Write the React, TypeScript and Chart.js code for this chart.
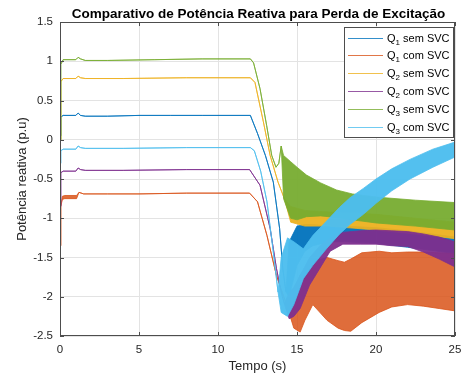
import React, { useEffect, useRef } from "react";
import { Chart, registerables } from "chart.js";

Chart.register(...registerables);

const TITLE = "Comparativo de Potência Reativa para Perda de Excitação";
const X_LABEL = "Tempo (s)";
const Y_LABEL = "Potência reativa (p.u)";
const X_TICKS = [0, 5, 10, 15, 20, 25];
const X_TICK_LABELS = ["0", "5", "10", "15", "20", "25"];
const Y_TICKS = [-2.5, -2, -1.5, -1, -0.5, 0, 0.5, 1, 1.5];
const Y_TICK_LABELS = ["-2.5", "-2", "-1.5", "-1", "-0.5", "0", "0.5", "1", "1.5"];

// Legend names: [base, subscript, rest]
const NAMES = [
  ["Q", "1", " sem SVC"],
  ["Q", "1", " com SVC"],
  ["Q", "2", " sem SVC"],
  ["Q", "2", " com SVC"],
  ["Q", "3", " sem SVC"],
  ["Q", "3", " com SVC"],
];
const COLORS = ["#0072BD", "#D95319", "#EDB120", "#7E2F8E", "#77AC30", "#4DBEEE"];
const FILLS = [
  "rgba(0,114,189,0.95)",
  "rgba(217,83,25,0.85)",
  "rgba(237,177,32,0.95)",
  "rgba(126,47,142,0.95)",
  "rgba(119,172,48,0.95)",
  "rgba(77,190,238,0.97)",
];

// Q1 sem SVC (upper / lower envelope)
const T_Q1S = [0, 0.05, 0.2, 1.0, 1.15, 1.3, 1.6, 3, 5, 7, 9, 12.05, 12.5, 13.0, 13.5, 13.9, 14.1, 14.3, 14.5, 15.0, 15.5, 16.0, 17.0, 18.0, 20.0, 22.0, 25.0];
const HI_Q1S = [0.05, 0.29, 0.31, 0.31, 0.34, 0.31, 0.3, 0.3, 0.31, 0.31, 0.31, 0.31, 0.08, -0.2, -0.54, -1.13, -1.64, -1.94, -1.3, -1.1, -1.08, -1.08, -1.1, -1.1, -1.12, -1.16, -1.24];
const LO_Q1S = [0.05, 0.29, 0.31, 0.31, 0.34, 0.31, 0.3, 0.3, 0.31, 0.31, 0.31, 0.31, 0.08, -0.2, -0.54, -1.13, -1.64, -1.94, -2.0, -1.6, -1.42, -1.35, -1.3, -1.3, -1.32, -1.37, -1.45];

// Q1 com SVC
const T_Q1C = [0, 0.05, 0.15, 0.3, 1.05, 1.2, 1.5, 3, 5, 8, 12.0, 12.5, 13.1, 13.7, 14.35, 14.8, 15.2, 15.5, 16.0, 16.9, 17.6, 18.0, 18.4, 19.1, 20.2, 21.0, 22.0, 23.0, 24.0, 25.0];
const HI_Q1C = [-1.35, -0.85, -0.72, -0.71, -0.71, -0.67, -0.69, -0.69, -0.69, -0.68, -0.68, -0.79, -1.22, -1.73, -2.11, -1.9, -1.72, -1.65, -1.55, -1.5, -1.54, -1.56, -1.52, -1.44, -1.42, -1.44, -1.43, -1.43, -1.44, -1.45];
const LO_Q1C = [-1.35, -0.85, -0.76, -0.75, -0.75, -0.67, -0.69, -0.69, -0.69, -0.68, -0.68, -0.79, -1.22, -1.73, -2.11, -2.4, -2.45, -2.3, -2.1, -2.3, -2.4, -2.43, -2.44, -2.33, -2.2, -2.13, -2.1, -2.12, -2.15, -2.18];

// Q2 sem SVC
const T_Q2S = [0, 0.05, 0.2, 1.0, 1.15, 1.3, 1.6, 4, 8, 12.05, 12.34, 12.87, 13.3, 13.8, 14.2, 14.6, 15.5, 17.0, 20.0, 22.5, 25.0];
const HI_Q2S = [0.0, 0.74, 0.78, 0.78, 0.81, 0.79, 0.78, 0.78, 0.79, 0.79, 0.73, 0.23, -0.2, -0.54, -0.75, -0.85, -0.9, -0.92, -0.95, -1.0, -1.05];
const LO_Q2S = [0.0, 0.74, 0.78, 0.78, 0.81, 0.79, 0.78, 0.78, 0.79, 0.79, 0.73, 0.23, -0.2, -0.54, -0.75, -1.05, -1.1, -1.1, -1.15, -1.2, -1.26];

// Q2 com SVC
const T_Q2C = [0, 0.05, 0.2, 1.0, 1.15, 1.3, 1.6, 4, 8, 12.0, 12.66, 13.3, 13.7, 14.0, 14.2, 14.5, 14.8, 15.2, 15.8, 16.5, 17.1, 17.9, 19.0, 20.0, 21.0, 22.0, 23.0, 24.0, 25.0];
const HI_Q2C = [-0.85, -0.42, -0.4, -0.4, -0.36, -0.38, -0.39, -0.39, -0.38, -0.38, -0.58, -1.13, -1.64, -1.94, -2.09, -1.95, -1.88, -1.73, -1.5, -1.34, -1.25, -1.18, -1.16, -1.15, -1.16, -1.17, -1.2, -1.24, -1.3];
const LO_Q2C = [-0.85, -0.42, -0.4, -0.4, -0.36, -0.38, -0.39, -0.39, -0.38, -0.38, -0.58, -1.13, -1.64, -1.94, -2.09, -2.28, -2.25, -2.15, -1.85, -1.62, -1.42, -1.33, -1.33, -1.33, -1.35, -1.36, -1.43, -1.52, -1.62];

// Q3 sem SVC
const T_Q3S = [0, 0.05, 0.2, 1.0, 1.15, 1.3, 1.6, 3, 6, 9, 12.05, 12.25, 12.66, 13.08, 13.4, 13.67, 13.85, 14.0, 14.15, 14.6, 15.0, 15.6, 16.5, 17.5, 18.5, 20.0, 22.5, 25.0];
const HI_Q3S = [0.0, 0.96, 1.02, 1.02, 1.05, 1.03, 1.01, 1.01, 1.02, 1.03, 1.03, 0.98, 0.65, 0.18, -0.2, -0.35, -0.3, -0.08, -0.2, -0.28, -0.35, -0.45, -0.55, -0.64, -0.69, -0.73, -0.77, -0.8];
const LO_Q3S = [0.0, 0.96, 1.02, 1.02, 1.05, 1.03, 1.01, 1.01, 1.02, 1.03, 1.03, 0.98, 0.65, 0.18, -0.2, -0.35, -0.3, -0.08, -0.75, -1.0, -1.02, -0.98, -0.97, -0.99, -1.02, -1.06, -1.1, -1.15];

// Q3 com SVC
const T_Q3C = [0, 0.05, 0.2, 1.0, 1.15, 1.3, 1.6, 4, 8, 12.05, 12.3, 12.7, 13.1, 13.5, 13.8, 14.0, 14.4, 14.8, 15.4, 16.0, 16.9, 17.7, 18.35, 19.2, 20.0, 21.0, 22.15, 23.6, 25.0];
const HI_Q3C = [-0.3, -0.14, -0.12, -0.12, -0.08, -0.1, -0.11, -0.11, -0.1, -0.1, -0.14, -0.4, -0.79, -1.43, -1.94, -1.5, -1.25, -1.3, -1.39, -1.22, -1.03, -0.86, -0.74, -0.62, -0.5, -0.37, -0.25, -0.12, -0.03];
const LO_Q3C = [-0.3, -0.14, -0.12, -0.12, -0.08, -0.1, -0.11, -0.11, -0.1, -0.1, -0.14, -0.4, -0.79, -1.43, -1.94, -2.2, -2.25, -2.1, -1.77, -1.6, -1.38, -1.2, -1.08, -0.95, -0.81, -0.65, -0.5, -0.35, -0.22];

const SERIES = [
  { t: T_Q1S, hi: HI_Q1S, lo: LO_Q1S, order: 6 },
  { t: T_Q1C, hi: HI_Q1C, lo: LO_Q1C, order: 5 },
  { t: T_Q2S, hi: HI_Q2S, lo: LO_Q2S, order: 4 },
  { t: T_Q2C, hi: HI_Q2C, lo: LO_Q2C, order: 3 },
  { t: T_Q3S, hi: HI_Q3S, lo: LO_Q3S, order: 2 },
  { t: T_Q3C, hi: HI_Q3C, lo: LO_Q3C, order: 1 },
];

const FONT = "'Liberation Sans', Arial, Helvetica, sans-serif";

const framePlugin = {
  id: "matlabFrame",
  afterDraw(chart: any) {
    const { ctx, chartArea: a, scales } = chart;
    ctx.save();
    // box
    ctx.strokeStyle = "#4d4d4d";
    ctx.lineWidth = 1;
    ctx.strokeRect(a.left + 0.5, a.top + 0.5, a.right - a.left - 1, a.bottom - a.top - 1);
    // inward ticks
    const tl = 4;
    ctx.beginPath();
    X_TICKS.forEach((v) => {
      const px = Math.round(scales.x.getPixelForValue(v)) + 0.5;
      ctx.moveTo(px, a.bottom);
      ctx.lineTo(px, a.bottom - tl);
      ctx.moveTo(px, a.top);
      ctx.lineTo(px, a.top + tl);
    });
    Y_TICKS.forEach((v) => {
      const py = Math.round(scales.y.getPixelForValue(v)) + 0.5;
      ctx.moveTo(a.left, py);
      ctx.lineTo(a.left + tl, py);
      ctx.moveTo(a.right, py);
      ctx.lineTo(a.right - tl, py);
    });
    ctx.stroke();

    // title
    ctx.fillStyle = "#000";
    ctx.font = `bold 13.5px ${FONT}`;
    ctx.textAlign = "center";
    ctx.textBaseline = "middle";
    ctx.fillText(TITLE, (a.left + a.right) / 2 + 1, 14);

    // axis titles
    ctx.fillStyle = "#262626";
    ctx.font = `13px ${FONT}`;
    ctx.fillText(X_LABEL, (a.left + a.right) / 2, 366);
    ctx.save();
    ctx.translate(22, (a.top + a.bottom) / 2);
    ctx.rotate(-Math.PI / 2);
    ctx.fillText(Y_LABEL, 0, 0);
    ctx.restore();

    // legend
    const lx = 344, ly = 27, lw = 109, lh = 110;
    ctx.fillStyle = "#fff";
    ctx.fillRect(lx, ly, lw, lh);
    ctx.strokeStyle = "#4d4d4d";
    ctx.strokeRect(lx + 0.5, ly + 0.5, lw, lh);
    ctx.textAlign = "left";
    ctx.textBaseline = "alphabetic";
    NAMES.forEach((n, i) => {
      const y = 37.5 + i * 17.9;
      ctx.strokeStyle = COLORS[i];
      ctx.lineWidth = 0.8;
      ctx.beginPath();
      ctx.moveTo(348, Math.round(y) + 0.5);
      ctx.lineTo(383, Math.round(y) + 0.5);
      ctx.stroke();
      ctx.fillStyle = "#000";
      let x = 387;
      ctx.font = `11px ${FONT}`;
      ctx.fillText(n[0], x, y + 4);
      x += ctx.measureText(n[0]).width;
      ctx.font = `8px ${FONT}`;
      ctx.fillText(n[1], x, y + 7);
      x += ctx.measureText(n[1]).width;
      ctx.font = `11px ${FONT}`;
      ctx.fillText(n[2], x, y + 4);
    });
    ctx.restore();
  },
};

export default function App() {
  const ref = useRef<HTMLCanvasElement>(null);
  useEffect(() => {
    if (!ref.current) return;
    const datasets: any[] = [];
    SERIES.forEach((s, i) => {
      datasets.push({
        label: NAMES[i].join("") + " hi",
        data: s.t.map((t, k) => ({ x: t, y: s.hi[k] })),
        borderColor: COLORS[i],
        backgroundColor: FILLS[i],
        borderWidth: 0.8,
        pointRadius: 0,
        tension: 0,
        fill: "+1",
        order: s.order,
      });
      datasets.push({
        label: NAMES[i].join("") + " lo",
        data: s.t.map((t, k) => ({ x: t, y: s.lo[k] })),
        borderColor: COLORS[i],
        backgroundColor: FILLS[i],
        borderWidth: 0.8,
        pointRadius: 0,
        tension: 0,
        fill: false,
        order: s.order,
      });
    });
    const tickFont = { family: FONT, size: 11.5 };
    const chart = new Chart(ref.current, {
      type: "line",
      data: { datasets },
      options: {
        animation: false,
        responsive: false,
        devicePixelRatio: 1,
        layout: { padding: { left: 0, right: 7, top: 22, bottom: 0 } },
        plugins: { legend: { display: false }, tooltip: { enabled: false }, title: { display: false } },
        scales: {
          x: {
            type: "linear",
            min: 0,
            max: 25,
            afterBuildTicks: (sc: any) => {
              sc.ticks = X_TICKS.map((v) => ({ value: v }));
            },
            afterFit: (sc: any) => {
              sc.height = 38;
              sc.paddingLeft = 0;
              sc.paddingRight = 0;
            },
            ticks: {
              autoSkip: false,
              maxRotation: 0,
              padding: 7,
              color: "#262626",
              font: tickFont,
              callback: (v: any) => X_TICK_LABELS[X_TICKS.indexOf(Number(v))] ?? "",
            },
            grid: { color: "#e3e3e3", drawTicks: false, lineWidth: 1 },
            border: { display: false },
          },
          y: {
            type: "linear",
            min: -2.5,
            max: 1.5,
            afterBuildTicks: (sc: any) => {
              sc.ticks = Y_TICKS.map((v) => ({ value: v }));
            },
            afterFit: (sc: any) => {
              sc.width = 60;
              sc.paddingTop = 0;
              sc.paddingBottom = 0;
            },
            ticks: {
              autoSkip: false,
              padding: 7,
              color: "#262626",
              font: tickFont,
              callback: (v: any) => Y_TICK_LABELS[Y_TICKS.indexOf(Number(v))] ?? "",
            },
            grid: { color: "#e3e3e3", drawTicks: false, lineWidth: 1 },
            border: { display: false },
          },
        },
      },
      plugins: [framePlugin],
    });
    return () => chart.destroy();
  }, []);
  return (
    <div style={{ position: "fixed", left: 0, top: 0, width: 462, height: 374, background: "#fff" }}>
      <canvas ref={ref} width={462} height={374} style={{ display: "block" }} />
    </div>
  );
}
